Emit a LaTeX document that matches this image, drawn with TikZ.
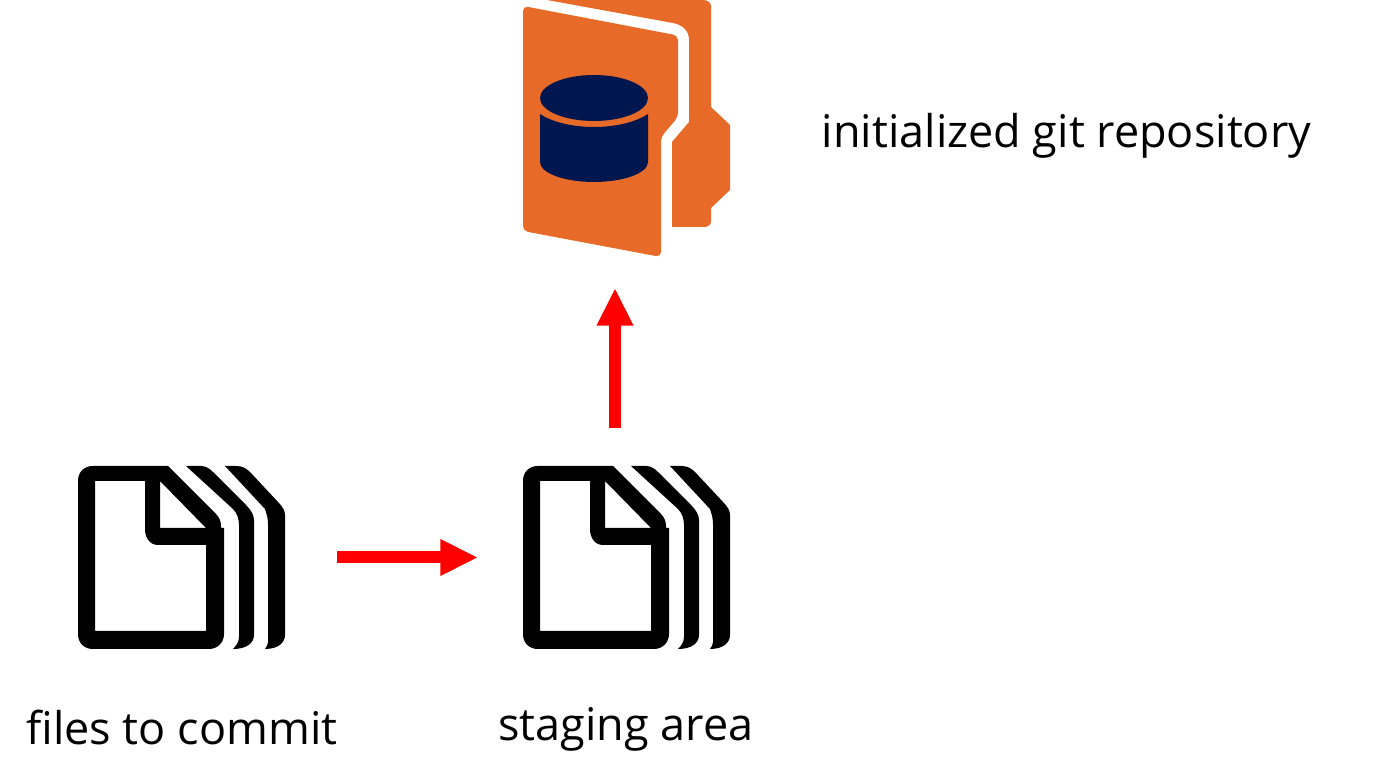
\documentclass[tikz,border=0pt]{standalone}
\usepackage{fontspec}
\setmainfont{Open Sans}
\usetikzlibrary{arrows.meta}
\definecolor{folderorange}{HTML}{E86A28}
\definecolor{dbnavy}{HTML}{00164F}
\definecolor{arrowred}{HTML}{FF0000}
\tikzset{
  iconbox/.style={minimum width=2.07cm, minimum height=1.83cm, inner sep=0pt, outer sep=0pt},
  caption/.style={anchor=base, inner sep=0pt, font=\fontsize{12.8pt}{16pt}\selectfont},
  flow/.style={-{Triangle[length=0.375cm, width=0.34cm]}, line width=0.12cm, draw=arrowred},
  pics/docstack/.style={code={
    % pagina davanti
    \fill[even odd rule] (15,0) -- (90,0) -- (138,48) .. controls (141,51) and (143,55) .. (143,60)
      -- (143,62) -- (146,62) -- (146,168) .. controls (146,177) and (139,183) .. (131,183) -- (15,183)
      .. controls (6,183) and (0,177) .. (0,168) -- (0,15) .. controls (0,6) and (6,0) .. (15,0)
      (17,15) -- (67,15) -- (67,63) .. controls (67,72) and (72,79) .. (80,79) -- (128,79)
      -- (128,165) -- (17,165) -- cycle
      (82,15) -- (128,62) -- (82,62) -- cycle;
    % seconda pagina
    \fill (108,0) -- (123,0) .. controls (128,0) and (132,3) .. (135,6) -- (168,39)
      .. controls (173,44) and (176,49) .. (176,54) -- (176,169) .. controls (176,176) and (170,183) .. (155,183)
      .. controls (158,180) and (161,176) .. (161,171) -- (161,59) .. controls (161,53) and (159,47) .. (155,43) -- cycle;
    % terza pagina
    \fill (147,0) -- (158,0) .. controls (164,0) and (168,2) .. (172,6) -- (200,36)
      .. controls (205,41) and (207,45) .. (207,49) -- (207,169) .. controls (207,176) and (201,183) .. (187,183)
      .. controls (189,180) and (190,178) .. (190,176) -- (190,58) .. controls (190,53) and (189,49) .. (187,43) -- cycle;
  }}
}
\begin{document}
\begin{tikzpicture}[x=0.01cm, y=-0.01cm]
\useasboundingbox (0,0) rectangle (1400,783);

% Cartella
\fill[folderorange] (547,0) -- (703,0) .. controls (708,0) and (711,3) .. (711,6) -- (711,107) -- (730,125) -- (730,190)
  -- (711,208) -- (711,221) .. controls (711,225) and (708,227) .. (704,227) -- (672,227) -- (672,142) -- (689,122) -- (689,40)
  .. controls (689,31) and (683,25) .. (673,23) -- cycle;
\fill[folderorange, rounded corners=1.4pt] (523,6) -- (678,35.5) -- (678,117) -- (661,137) -- (661,257)
  -- (523,231) -- cycle;

% Cilindro
\fill[dbnavy] (594,98) ellipse (54 and 23);
\fill[dbnavy] (540,114) .. controls (552,122) and (572,127) .. (594,127) .. controls (616,127) and (636,122) .. (648,114)
  -- (648,162) .. controls (648,173) and (624,182) .. (594,182) .. controls (564,182) and (540,173) .. (540,162) -- cycle;

% Icone
\node[iconbox] (folder) at (626.5,164.5) {};
\node[iconbox] (files) at (181.5,557.5) {};
\node[iconbox] (stage) at (626.5,557.5) {};
\pic at (78,466) {docstack};
\pic at (523,466) {docstack};

% Testi
\node[caption] (filestext) at (182,745) {files to commit};
\node[caption] (stagetext) at (626,741) {staging area};
\node[caption] (repotext) at (1066.5,148) {initialized git repository};

% Frecce
\draw[flow] ([shift={(52,0)}]files.east) -- ([shift={(-45,0)}]stage.west);
\draw[flow] ([shift={(-11.5,-38)}]stage.north) -- ([shift={(-11.5,32)}]folder.south);

\end{tikzpicture}
\end{document}
